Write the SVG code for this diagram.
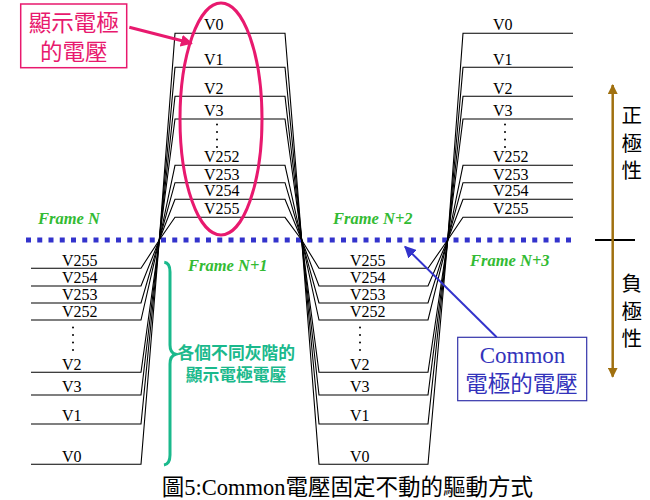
<svg xmlns="http://www.w3.org/2000/svg" width="650" height="500" viewBox="0 0 650 500">
<defs>
<style>
.wave{fill:none;stroke:#000;stroke-width:1.1}
.lbl{font-family:"Liberation Serif","Times New Roman",serif;font-size:16px;fill:#000}
.frm{font-family:"Liberation Serif","Times New Roman",serif;font-size:16.5px;font-weight:bold;font-style:italic;fill:#33BB33}
.cjk{font-family:"Noto Sans CJK TC","Noto Sans CJK SC",sans-serif}
.pol{font-family:"Noto Sans CJK TC","Noto Sans CJK SC",sans-serif;font-size:20.5px;fill:#000;text-anchor:middle}
.dot{fill:#000}
</style>
<marker id="pinkHead" viewBox="0 0 10 10" refX="9" refY="5" markerWidth="4" markerHeight="4" orient="auto" markerUnits="strokeWidth"><path d="M0,0 L10,5 L0,10 z" fill="#E8196E"/></marker>
<marker id="blueHead" viewBox="0 0 10 10" refX="9" refY="5" markerWidth="6" markerHeight="6" orient="auto" markerUnits="strokeWidth"><path d="M0,0 L10,5 L0,10 z" fill="#3333CC"/></marker>
<marker id="brownHead" viewBox="0 0 10 10" refX="9" refY="5" markerWidth="4" markerHeight="4" orient="auto" markerUnits="strokeWidth"><path d="M0,0 L10,5 L0,10 z" fill="#A0700F"/></marker>
</defs>
<rect width="650" height="500" fill="#fff"/>

<g id="common-line">
<line x1="26" y1="240" x2="573" y2="240" stroke="#3333CC" stroke-width="5" stroke-dasharray="5 6.25"/>
</g>

<g id="waveforms">
<path class="wave" d="M31,464.3 H141 L159.3,240 L175,33.3 H285 L301.7,240 L319,464.3 H428 L447.7,240 L463,33.3 H573"/>
<path class="wave" d="M31,424 H141 L159.3,240 L175,67.3 H285 L301.7,240 L319,424 H428 L447.7,240 L463,67.3 H573"/>
<path class="wave" d="M31,372.3 H141 L159.3,240 L175,96.3 H285 L301.7,240 L319,372.3 H428 L447.7,240 L463,96.3 H573"/>
<path class="wave" d="M31,395 H141 L159.3,240 L175,119 H285 L301.7,240 L319,395 H428 L447.7,240 L463,119 H573"/>
<path class="wave" d="M31,320 H141 L159.3,240 L175,165.3 H285 L301.7,240 L319,320 H428 L447.7,240 L463,165.3 H573"/>
<path class="wave" d="M31,303 H141 L159.3,240 L175,182.7 H285 L301.7,240 L319,303 H428 L447.7,240 L463,182.7 H573"/>
<path class="wave" d="M31,286 H141 L159.3,240 L175,199.3 H285 L301.7,240 L319,286 H428 L447.7,240 L463,199.3 H573"/>
<path class="wave" d="M31,268.3 H141 L159.3,240 L175,217.3 H285 L301.7,240 L319,268.3 H428 L447.7,240 L463,217.3 H573"/>
</g>

<g id="upper-labels-1">
<text class="lbl" x="204" y="30">V0</text>
<text class="lbl" x="204" y="64.5">V1</text>
<text class="lbl" x="204" y="93.5">V2</text>
<text class="lbl" x="204" y="116">V3</text>
<text class="lbl" x="204" y="162.3">V252</text>
<text class="lbl" x="204" y="179.7">V253</text>
<text class="lbl" x="204" y="196.3">V254</text>
<text class="lbl" x="204" y="214.3">V255</text>
<circle class="dot" cx="217" cy="124.5" r="1"/><circle class="dot" cx="217" cy="132" r="1"/><circle class="dot" cx="217" cy="139.5" r="1"/><circle class="dot" cx="217" cy="147" r="1"/>
</g>
<g id="upper-labels-2">
<text class="lbl" x="493" y="30">V0</text>
<text class="lbl" x="493" y="64.5">V1</text>
<text class="lbl" x="493" y="93.5">V2</text>
<text class="lbl" x="493" y="116">V3</text>
<text class="lbl" x="493" y="162.3">V252</text>
<text class="lbl" x="493" y="179.7">V253</text>
<text class="lbl" x="493" y="196.3">V254</text>
<text class="lbl" x="493" y="214.3">V255</text>
<circle class="dot" cx="505" cy="124.5" r="1"/><circle class="dot" cx="505" cy="132" r="1"/><circle class="dot" cx="505" cy="139.5" r="1"/><circle class="dot" cx="505" cy="147" r="1"/>
</g>
<g id="lower-labels-1">
<text class="lbl" x="62" y="265.5">V255</text>
<text class="lbl" x="62" y="283">V254</text>
<text class="lbl" x="62" y="300">V253</text>
<text class="lbl" x="62" y="317">V252</text>
<text class="lbl" x="62" y="369.5">V2</text>
<text class="lbl" x="62" y="392">V3</text>
<text class="lbl" x="62" y="421">V1</text>
<text class="lbl" x="62" y="461.5">V0</text>
<circle class="dot" cx="73" cy="327.5" r="1"/><circle class="dot" cx="73" cy="335" r="1"/><circle class="dot" cx="73" cy="342.5" r="1"/><circle class="dot" cx="73" cy="350" r="1"/>
</g>
<g id="lower-labels-2">
<text class="lbl" x="350" y="265.5">V255</text>
<text class="lbl" x="350" y="283">V254</text>
<text class="lbl" x="350" y="300">V253</text>
<text class="lbl" x="350" y="317">V252</text>
<text class="lbl" x="350" y="369.5">V2</text>
<text class="lbl" x="350" y="392">V3</text>
<text class="lbl" x="350" y="421">V1</text>
<text class="lbl" x="350" y="461.5">V0</text>
<circle class="dot" cx="360" cy="327.5" r="1"/><circle class="dot" cx="360" cy="335" r="1"/><circle class="dot" cx="360" cy="342.5" r="1"/><circle class="dot" cx="360" cy="350" r="1"/>
</g>

<g id="frame-labels">
<text class="frm" x="38" y="224">Frame N</text>
<text class="frm" x="188" y="271">Frame N+1</text>
<text class="frm" x="333" y="224">Frame N+2</text>
<text class="frm" x="470" y="266">Frame N+3</text>
</g>

<g id="pixel-callout">
<rect x="20.7" y="4" width="106" height="63.7" fill="none" stroke="#E8196E" stroke-width="1.5"/>
<text class="cjk" x="73.7" y="31" font-size="22.5" fill="#E8196E" text-anchor="middle">顯示電極</text>
<text class="cjk" x="73.7" y="60" font-size="22.5" fill="#E8196E" text-anchor="middle">的電壓</text>
<ellipse cx="221" cy="119" rx="41" ry="116" fill="none" stroke="#E8196E" stroke-width="3"/>
</g>

<g id="gray-levels">
<path d="M164.3,262.3 Q170,263 170,272 L170,345 Q170,353 175.7,354.3 Q170,356 170,364 L170,455 Q170,464 164,465" fill="none" stroke="#1AB98C" stroke-width="3"/>
<text class="cjk" x="236.3" y="358.5" font-size="16.8" font-weight="bold" fill="#1AB98C" text-anchor="middle">各個不同灰階的</text>
<text class="cjk" x="236" y="381" font-size="16.8" font-weight="bold" fill="#1AB98C" text-anchor="middle">顯示電極電壓</text>
</g>

<g id="common-callout">
<rect x="457.7" y="337.3" width="129" height="63.4" fill="none" stroke="#3333AA" stroke-width="1.2"/>
<text x="522.5" y="362.5" font-family="Liberation Serif, serif" font-size="23" fill="#3333BB" text-anchor="middle">Common</text>
<text class="cjk" x="521.5" y="391.5" font-size="22.5" fill="#3333BB" text-anchor="middle">電極的電壓</text>
</g>

<g id="polarity">
<line x1="595" y1="240" x2="635" y2="240" stroke="#000" stroke-width="2"/>
<text class="pol" x="631.7" y="123">正</text>
<text class="pol" x="631.7" y="150.5">極</text>
<text class="pol" x="631.7" y="178">性</text>
<text class="pol" x="631.7" y="291">負</text>
<text class="pol" x="631.7" y="318.5">極</text>
<text class="pol" x="631.7" y="346">性</text>
</g>

<g id="connectors">
<line x1="129.3" y1="27.3" x2="191.7" y2="43.3" stroke="#E8196E" stroke-width="3" marker-end="url(#pinkHead)"/>
<line x1="496.7" y1="337.3" x2="405" y2="246.7" stroke="#3333CC" stroke-width="2" marker-end="url(#blueHead)"/>
<line x1="612.7" y1="230" x2="612.7" y2="85" stroke="#A0700F" stroke-width="2.5" marker-end="url(#brownHead)"/>
<line x1="612.7" y1="230" x2="612.7" y2="376.7" stroke="#A0700F" stroke-width="2.5" marker-end="url(#brownHead)"/>
</g>

<g id="caption">
<text x="161.7" y="494.5" font-family="Liberation Serif, Noto Sans CJK TC, serif" font-size="22.5" fill="#000">圖5:Common電壓固定不動的驅動方式</text>
</g>
</svg>
